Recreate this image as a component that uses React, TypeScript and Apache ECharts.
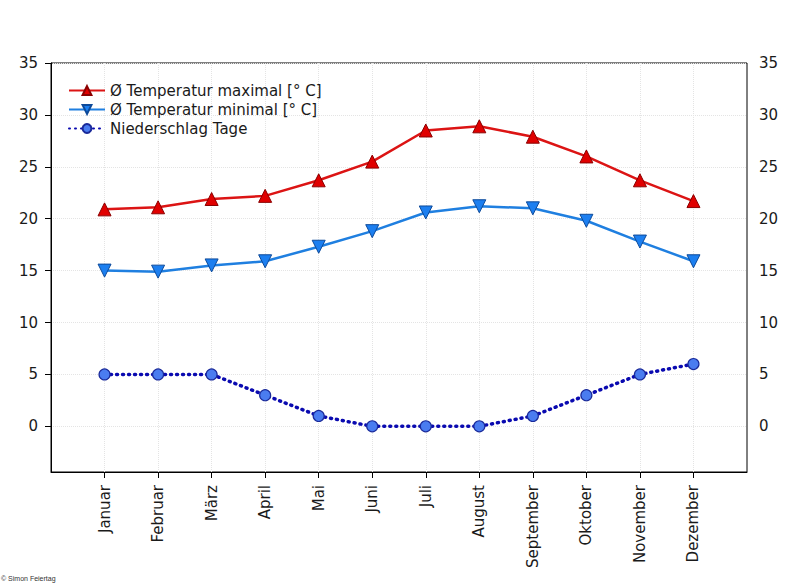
import React, { useEffect, useRef } from "react";
import * as echarts from "echarts";

const months = ["Januar", "Februar", "März", "April", "Mai", "Juni", "Juli", "August", "September", "Oktober", "November", "Dezember"];
const tempMax = [20.9, 21.1, 21.9, 22.2, 23.7, 25.5, 28.5, 28.9, 27.9, 26.0, 23.7, 21.7];
const tempMin = [15.0, 14.9, 15.5, 15.9, 17.3, 18.8, 20.6, 21.2, 21.0, 19.8, 17.8, 15.9];
const rainDays = [5, 5, 5, 3, 1, 0, 0, 0, 1, 3, 5, 6];
const yMin = -4.4;
const yMax = 35;

const pad = (arr: (number | string)[], fill: any) => [fill, ...arr, fill];

export default function App() {
  const ref = useRef<HTMLDivElement>(null);
  useEffect(() => {
    const chart = echarts.init(ref.current!, null, { renderer: "svg" });
    const font = "DejaVu Sans";
    const fs = 15;
    const yAxisCommon = {
      type: "value" as const,
      min: yMin,
      max: yMax,
      splitNumber: 8,
      minInterval: 5,
      maxInterval: 5,
    };
    chart.setOption({
      animation: false,
      backgroundColor: "#ffffff",
      textStyle: { fontFamily: font },
      grid: {
        left: 51,
        right: 63,
        top: 63,
        bottom: 114,
        show: true,
        borderColor: "#000",
        borderWidth: 1,
        backgroundColor: "transparent",
      },
      legend: {
        orient: "vertical",
        left: 63,
        top: 78,
        padding: 5,
        itemWidth: 36,
        itemHeight: 11,
        itemGap: 4,
        textStyle: { fontFamily: font, fontSize: fs, color: "#1a1a1a" },
        data: ["Ø Temperatur maximal [° C]", "Ø Temperatur minimal [° C]", "Niederschlag Tage"],
      },
      xAxis: {
        type: "category",
        boundaryGap: false,
        data: pad(months, ""),
        axisLine: { show: true, onZero: false, lineStyle: { color: "#000", width: 1 } },
        axisTick: {
          show: true,
          length: 6,
          interval: (i: number) => i > 0 && i < months.length + 1,
          lineStyle: { color: "#000" },
        },
        axisLabel: {
          rotate: 90,
          interval: 0,
          margin: 13,
          fontFamily: font,
          fontSize: fs,
          color: "#1a1a1a",
        },
        splitLine: {
          show: true,
          interval: (i: number) => i > 0 && i < months.length + 1,
          lineStyle: { color: "#e4e4e4", type: "dotted", width: 1 },
        },
      },
      yAxis: [
        {
          ...yAxisCommon,
          position: "left",
          axisLine: { show: true, lineStyle: { color: "#000" } },
          axisTick: { show: true, length: 6, lineStyle: { color: "#000" } },
          axisLabel: {
            margin: 13,
            showMinLabel: false,
            fontFamily: font,
            fontSize: fs,
            color: "#1a1a1a",
            formatter: (v: number) => (v < 0 ? "" : String(v)),
          },
          splitLine: { show: true, lineStyle: { color: "#e4e4e4", type: "dotted", width: 1 } },
        },
        {
          ...yAxisCommon,
          position: "right",
          axisLine: { show: false },
          axisTick: { show: false },
          axisLabel: {
            margin: 12,
            showMinLabel: false,
            fontFamily: font,
            fontSize: fs,
            color: "#1a1a1a",
            formatter: (v: number) => (v < 0 ? "" : String(v)),
          },
          splitLine: { show: false },
        },
      ],
      series: [
        {
          name: "Ø Temperatur maximal [° C]",
          type: "line",
          data: pad(tempMax, null),
          symbol: "triangle",
          symbolSize: 13,
          lineStyle: { color: "#dc1414", width: 2.5 },
          itemStyle: { color: "#e00000", borderColor: "#8a0000", borderWidth: 1 },
          color: "#dc1414",
          z: 3,
        },
        {
          name: "Ø Temperatur minimal [° C]",
          type: "line",
          data: pad(tempMin, null),
          symbol: "triangle",
          symbolRotate: 180,
          symbolSize: 13,
          lineStyle: { color: "#1f7fe0", width: 2.5 },
          itemStyle: { color: "#1c7ff0", borderColor: "#0d4a9a", borderWidth: 1 },
          color: "#1f7fe0",
          z: 3,
        },
        {
          name: "Niederschlag Tage",
          type: "line",
          data: pad(rainDays, null),
          symbol: "circle",
          symbolSize: 11,
          lineStyle: { color: "#0a0ab0", width: 3.5, type: [1, 5], cap: "round" },
          itemStyle: { color: "#4a7cf0", borderColor: "#1a2a9a", borderWidth: 1.2 },
          color: "#0a0ab0",
          z: 3,
        },
      ],
      graphic: [
        {
          type: "text",
          left: 1,
          top: 575,
          style: {
            text: "© Simon Feiertag",
            fontFamily: "Liberation Sans",
            fontSize: 7,
            fill: "#333",
          },
        },
      ],
    });
    return () => chart.dispose();
  }, []);
  return (
    <div
      ref={ref}
      style={{ position: "absolute", left: 0, top: 0, width: 810, height: 586 }}
    />
  );
}
